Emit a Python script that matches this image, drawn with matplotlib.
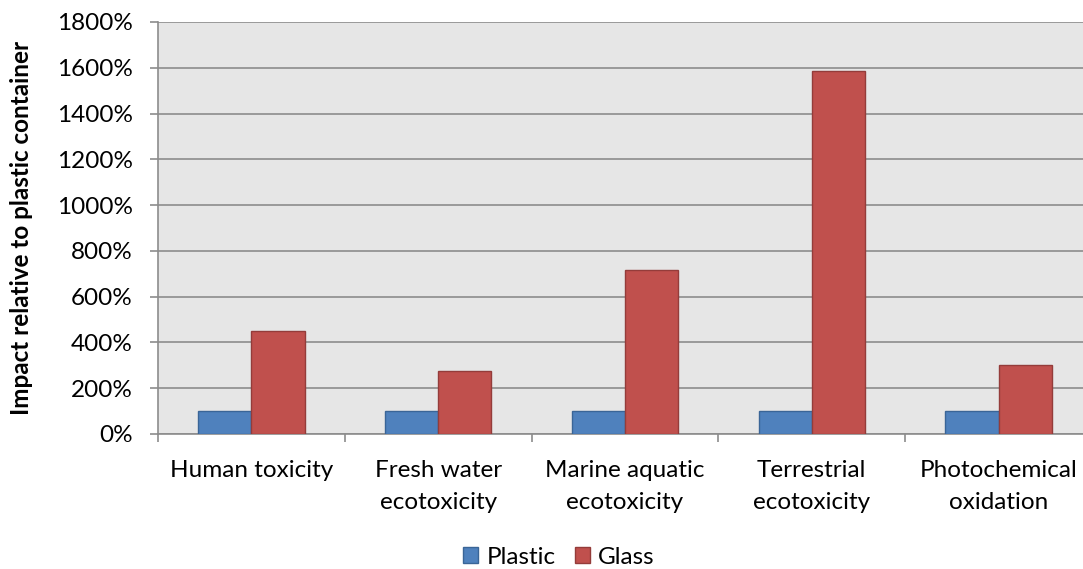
import numpy as np
import matplotlib.pyplot as plt
from matplotlib.ticker import FuncFormatter

# impact categories and results, % of the plastic container
categories = ['Human toxicity', 'Fresh water\necotoxicity', 'Marine aquatic\necotoxicity',
              'Terrestrial\necotoxicity', 'Photochemical\noxidation']
plastic = [100, 100, 100, 100, 100]
glass = [450, 275, 716, 1585, 301]

plt.rcParams['font.family'] = ['Lato', 'DejaVu Sans']

fig = plt.figure(figsize=(10.83, 5.69), dpi=100)
ax = fig.add_axes([158 / 1083, 135 / 569, (1092 - 158) / 1083, (434 - 22) / 569])
ax.set_facecolor('#e6e6e6')

x = np.arange(len(categories))
w = 0.285
ax.bar(x - w / 2, plastic, w, color='#4f81bd', edgecolor='#3a6597', linewidth=1, label='Plastic', zorder=3)
ax.bar(x + w / 2, glass, w, color='#c0504d', edgecolor='#943c3a', linewidth=1, label='Glass', zorder=3)

ax.set_xlim(-0.5, len(categories) - 0.5)
ax.set_ylim(0, 1800)
ax.set_yticks(range(0, 1801, 200))
ax.yaxis.set_major_formatter(FuncFormatter(lambda v, p: '%d%%' % v))
ax.grid(axis='y', color='#8c8c8c', linewidth=1.2, zorder=0)

# category boundaries get the tick marks, labels sit in the middle
ax.set_xticks(np.arange(len(categories) + 1) - 0.5)
ax.set_xticklabels([])
ax.set_xticks(x, minor=True)
ax.set_xticklabels(categories, minor=True, fontsize=17.5, linespacing=1.65)
ax.tick_params(axis='x', which='minor', length=0, pad=19)
ax.tick_params(axis='x', which='major', length=6, color='#8c8c8c', width=1.2)
ax.tick_params(axis='y', length=6, color='#8c8c8c', width=1.2, labelsize=17.5, pad=12)

for s in ['top', 'right']:
    ax.spines[s].set_visible(False)
for s in ['left', 'bottom']:
    ax.spines[s].set_color('#8c8c8c')
    ax.spines[s].set_linewidth(1.2)

ax.set_ylabel('Impact relative to plastic container', fontsize=17.5, fontweight='bold', labelpad=17)

fig.legend(loc='center', bbox_to_anchor=(559 / 1083, 1 - 557 / 569), ncol=2, frameon=False,
           fontsize=17.5, handlelength=0.6, handleheight=0.6, handletextpad=0.35, columnspacing=0.8)

fig.savefig('out.png', dpi=100)
